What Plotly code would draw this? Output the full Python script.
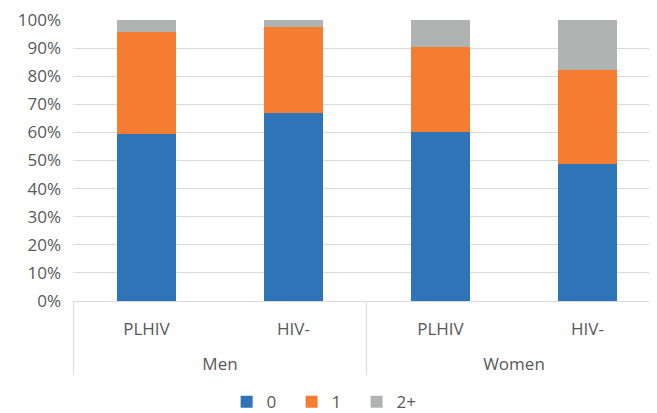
import plotly.graph_objects as go

groups = ["<br>Men", "<br>Men", "<br>Women", "<br>Women"]
subgroups = ["PLHIV", "HIV-", "PLHIV", "HIV-"]
series_names = ["0", "1", "2+"]
vals_0 = [59.3, 67.0, 60.0, 48.9]
vals_1 = [36.4, 30.6, 30.5, 33.2]
vals_2 = [4.3, 2.4, 9.5, 17.9]
y_ticks = list(range(0, 101, 10))
y_tick_labels = [f"{v}%" for v in y_ticks]
colors = ["#2E74B6", "#F47D32", "#B1B3B2"]

fig = go.Figure()
for name, vals, c in zip(series_names, [vals_0, vals_1, vals_2], colors):
    fig.add_trace(go.Bar(x=[groups, subgroups], y=vals, name=name,
                         marker=dict(color=c, line=dict(width=0))))

font_fam = "Open Sans, Liberation Sans, sans-serif"
fig.update_layout(
    barmode="stack",
    bargap=0.6,
    width=649, height=405,
    margin=dict(l=65, r=0, t=12, b=112, autoexpand=False),
    paper_bgcolor="white", plot_bgcolor="white",
    font=dict(family=font_fam, size=17, color="#595959"),
    showlegend=True,
    legend=dict(orientation="h", x=0.43, xanchor="center", y=-0.36, yanchor="middle",
                font=dict(size=17, color="#595959"), itemwidth=30, traceorder="normal",
                entrywidth=20, entrywidthmode="pixels"),
)
fig.update_yaxes(range=[0, 100], tickvals=y_ticks, ticktext=y_tick_labels,
                 showgrid=True, gridcolor="#D9D9D9", gridwidth=1, zeroline=False,
                 showline=False, ticks="", automargin=False, ticklabelstandoff=11,
                 ticklabeloverflow="allow",
                 tickfont=dict(size=17, color="#595959"))
fig.update_xaxes(type="multicategory", range=[-0.5, 3.473], showline=True, linecolor="#D9D9D9",
                 showdividers=True, dividercolor="#D9D9D9", dividerwidth=1, automargin=False,
                 ticks="", ticklabelstandoff=13, ticklabeloverflow="allow",
                 tickfont=dict(size=17, color="#595959"))

fig.write_html("out.html")
